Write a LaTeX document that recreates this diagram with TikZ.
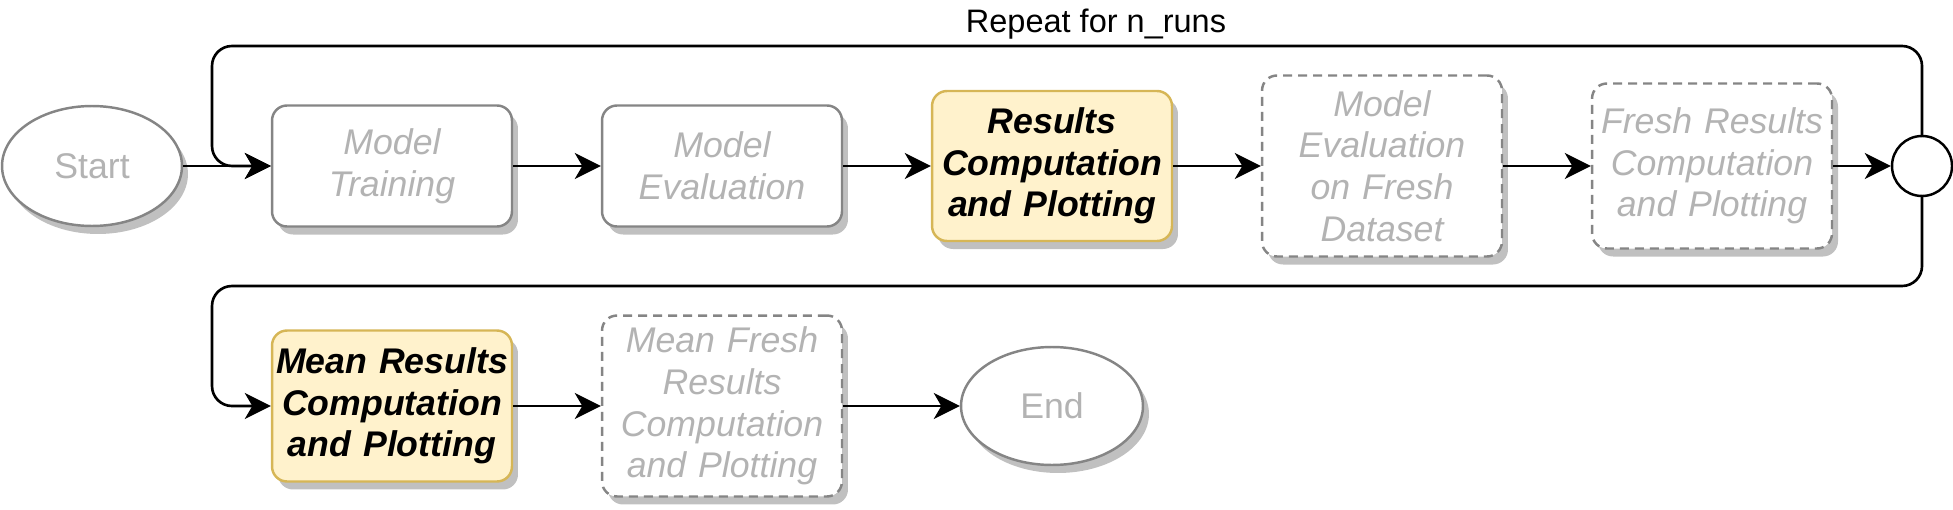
\documentclass[tikz,border=0pt]{standalone}
\usepackage{fontspec}
\setmainfont{Liberation Sans}
\usepackage{tikz}
\usetikzlibrary{arrows.meta,shapes.geometric,shadows}
\definecolor{boxgrey}{HTML}{858585}
\definecolor{txtgrey}{HTML}{B3B3B3}
\definecolor{shadgrey}{HTML}{C0C0C0}
\definecolor{resfill}{HTML}{FFF2CC}
\definecolor{resdraw}{HTML}{D6B656}
\newcommand{\flowfont}{\fontsize{20.3}{23.7}\selectfont}
\tikzset{
  shad/.style={drop shadow={shadow xshift=0.12cm,shadow yshift=-0.16cm,opacity=1,fill=shadgrey}},
  basebox/.style={rectangle,rounded corners=0.3cm,draw=boxgrey,fill=white,line width=1.4pt,
    text=txtgrey,font=\flowfont\itshape,minimum width=4.8cm,text width=4.8cm,align=center,inner sep=0pt},
  greybox/.style={basebox,shad},
  yellowbox/.style={basebox,shad,draw=resdraw,fill=resfill,text=black,font=\flowfont\bfseries\itshape},
  dashbox/.style={basebox,shad,dash pattern=on 0.18cm off 0.12cm},
  oval/.style={ellipse,draw=boxgrey,fill=white,line width=1.4pt,text=txtgrey,font=\flowfont,
    minimum width=3.6cm,minimum height=2.4cm,inner sep=0pt,shad},
  joint/.style={circle,draw=black,fill=white,line width=1.4pt,minimum size=1.2cm,inner sep=0pt}
}
\begin{document}
\begin{tikzpicture}[x=0.02cm,y=-0.02cm,line width=1.5pt,
  >={Stealth[length=0.52cm,width=0.52cm,inset=0.15cm]}]
  \useasboundingbox (0,0) rectangle (1953,510);
  % Hàng trên
  \node[oval] (start) at (92,166) {Start};
  \foreach \n/\x/\h/\s/\t in {
    train/392/121/greybox/{Model\\Training},
    eval/722/121/greybox/{Model\\Evaluation},
    res/1052/150/yellowbox/{Results\\Computation\\and Plotting},
    freval/1382/181/dashbox/{Model\\Evaluation\\on Fresh\\Dataset},
    frres/1712/165/dashbox/{Fresh Results\\Computation\\and Plotting}}
    \node[\s,minimum height=\h*0.02cm] (\n) at (\x,166) {\t};
  \node[joint] (jn) at (1922,166) {};
  % Hàng dưới
  \node[yellowbox,minimum height=3.02cm] (meanres) at (392,406) {Mean Results\\Computation\\and Plotting};
  \node[dashbox,minimum height=3.62cm] (meanfr) at (722,406) {Mean Fresh\\Results\\Computation\\and Plotting};
  \node[oval,minimum width=3.64cm,minimum height=2.36cm] (end) at (1052,406) {End};
  % Mũi tên
  \foreach \a/\b in {start/train,train/eval,eval/res,res/freval,freval/frres,frres/jn,meanres/meanfr,meanfr/end}
    \draw[->] (\a) -- (\b);
  % Vòng lặp
  \coordinate (loopT) at (212,46);
  \coordinate (loopB) at (212,286);
  \draw[->,rounded corners=0.4cm] (jn.north) |- (loopT) |- (train.west);
  \draw[->,rounded corners=0.4cm] (jn.south) |- (loopB) |- (meanres.west);
  \node[font=\fontsize{18.5}{22}\selectfont] (rep) at (1096,24) {Repeat for n\_runs};
\end{tikzpicture}
\end{document}
